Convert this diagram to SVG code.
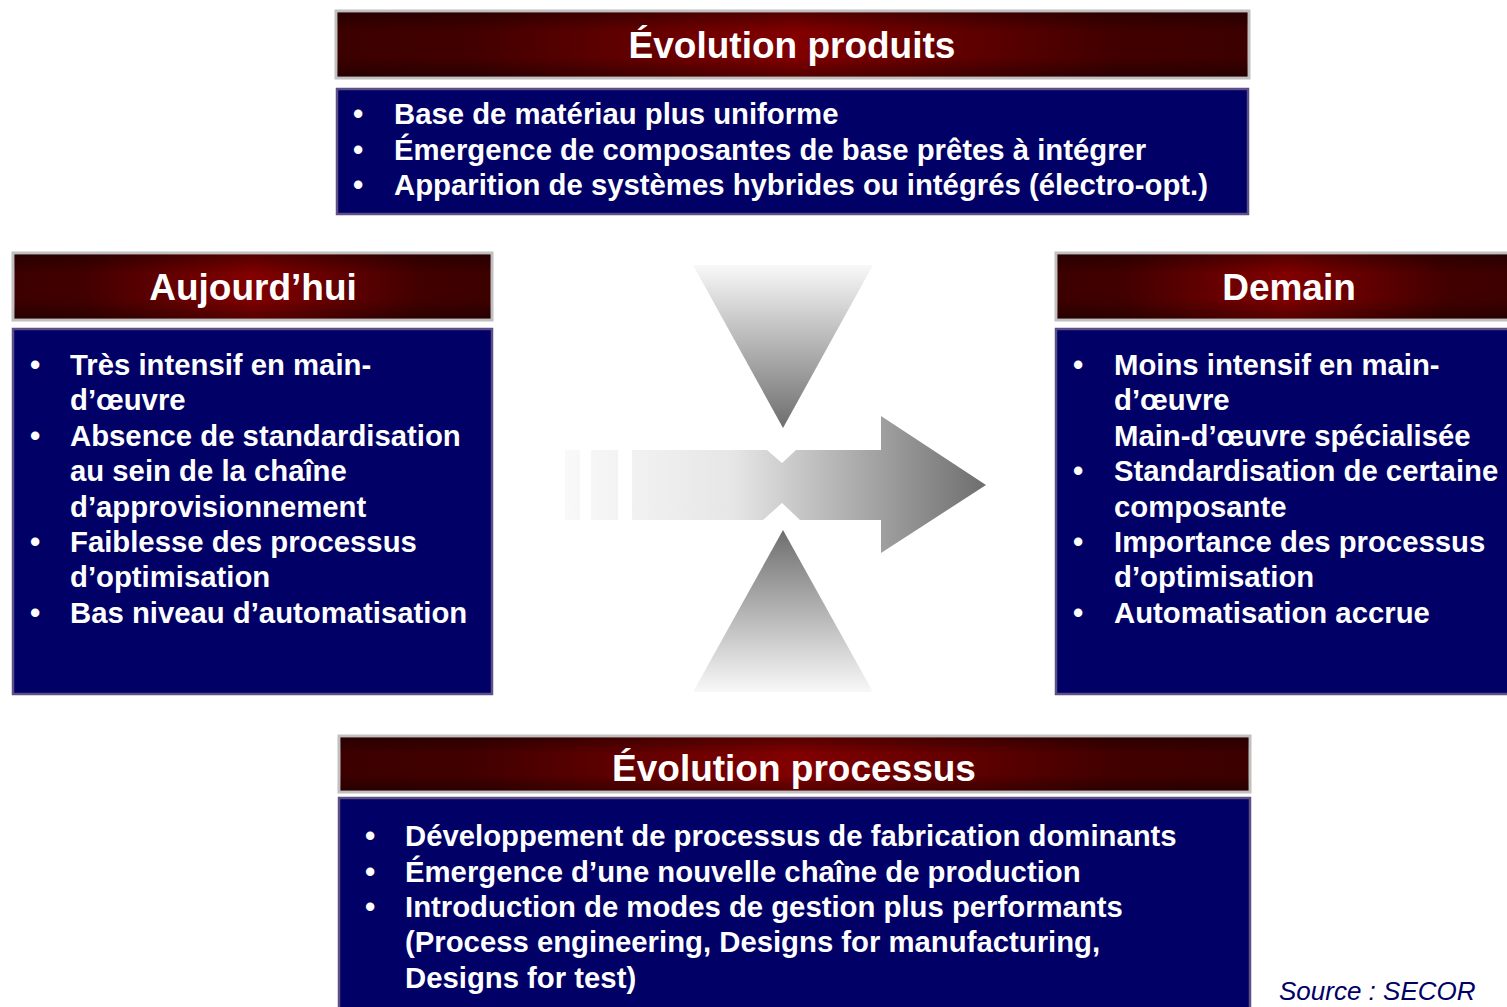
<svg xmlns="http://www.w3.org/2000/svg" width="1507" height="1007" viewBox="0 0 1507 1007">
  <defs>
    <linearGradient id="redH" x1="0" y1="0" x2="1" y2="0">
      <stop offset="0" stop-color="#3c0000"/>
      <stop offset="0.15" stop-color="#420000"/>
      <stop offset="0.5" stop-color="#820000"/>
      <stop offset="0.85" stop-color="#420000"/>
      <stop offset="1" stop-color="#3c0000"/>
    </linearGradient>
    <linearGradient id="shadeV" x1="0" y1="0" x2="0" y2="1">
      <stop offset="0" stop-color="#000" stop-opacity="0.35"/>
      <stop offset="0.3" stop-color="#000" stop-opacity="0"/>
      <stop offset="0.7" stop-color="#000" stop-opacity="0"/>
      <stop offset="1" stop-color="#000" stop-opacity="0.35"/>
    </linearGradient>
    <linearGradient id="triDown" x1="0" y1="0" x2="0" y2="1">
      <stop offset="0" stop-color="#f8f8f8"/>
      <stop offset="1" stop-color="#6e6e6e"/>
    </linearGradient>
    <linearGradient id="triUp" x1="0" y1="1" x2="0" y2="0">
      <stop offset="0" stop-color="#f8f8f8"/>
      <stop offset="1" stop-color="#6e6e6e"/>
    </linearGradient>
    <linearGradient id="arrowG" gradientUnits="userSpaceOnUse" x1="565" y1="0" x2="986" y2="0">
      <stop offset="0" stop-color="#f9f9f9"/>
      <stop offset="0.4" stop-color="#e6e6e6"/>
      <stop offset="1" stop-color="#6e6e6e"/>
    </linearGradient>
  </defs>
  <style>
    .hdr { fill: url(#redH); stroke: #c0c0c0; stroke-width: 3; }
    .shade { fill: url(#shadeV); }
    .body { fill: #000066; stroke: #5e4f86; stroke-width: 2.5; }
    .title { font-family: "Liberation Sans", Arial, sans-serif; font-weight: bold; font-size: 37px; fill: #ffffff; text-anchor: middle; }
    .item { font-family: "Liberation Sans", Arial, sans-serif; font-weight: bold; font-size: 29.3px; fill: #ffffff; }
    .src { font-family: "Liberation Sans", Arial, sans-serif; font-style: italic; font-size: 26px; fill: #000066; }
  </style>
  <rect width="1507" height="1007" fill="#ffffff"/>

  <!-- central arrow motif -->
  <g id="motif">
    <polygon points="693,265 873,265 783,428" fill="url(#triDown)"/>
    <polygon points="783,530 873,692 693,692" fill="url(#triUp)"/>
    <rect x="565" y="450" width="15" height="70" fill="url(#arrowG)"/>
    <rect x="591" y="450" width="27" height="70" fill="url(#arrowG)"/>
    <polygon points="632,450 767,450 782,463 796,450 881,450 881,416 986,485 881,553 881,520 800,520 782,503 763,520 632,520" fill="url(#arrowG)"/>
  </g>

  <!-- product evolution -->
  <g id="produits">
    <rect class="hdr" x="336" y="11" width="913" height="67"/>
    <rect class="shade" x="337.5" y="12.5" width="910" height="64"/>
    <text class="title" x="792" y="58">Évolution produits</text>
    <rect class="body" x="337" y="89" width="911" height="125"/>
    <text class="item" x="353" y="124">•</text>
    <text class="item" x="394" y="124">Base de matériau plus uniforme</text>
    <text class="item" x="353" y="160">•</text>
    <text class="item" x="394" y="160">Émergence de composantes de base prêtes à intégrer</text>
    <text class="item" x="353" y="195">•</text>
    <text class="item" x="394" y="195">Apparition de systèmes hybrides ou intégrés (électro-opt.)</text>
  </g>

  <!-- today -->
  <g id="aujourdhui">
    <rect class="hdr" x="13" y="253" width="479" height="67"/>
    <rect class="shade" x="14.5" y="254.5" width="476" height="64"/>
    <text class="title" x="253" y="300">Aujourd’hui</text>
    <rect class="body" x="13" y="329" width="479" height="365"/>
    <text class="item" x="30" y="375">•</text>
    <text class="item" x="70" y="375">Très intensif en main-</text>
    <text class="item" x="70" y="410">d’œuvre</text>
    <text class="item" x="30" y="446">•</text>
    <text class="item" x="70" y="446">Absence de standardisation</text>
    <text class="item" x="70" y="481">au sein de la chaîne</text>
    <text class="item" x="70" y="517">d’approvisionnement</text>
    <text class="item" x="30" y="552">•</text>
    <text class="item" x="70" y="552">Faiblesse des processus</text>
    <text class="item" x="70" y="587">d’optimisation</text>
    <text class="item" x="30" y="623">•</text>
    <text class="item" x="70" y="623">Bas niveau d’automatisation</text>
  </g>

  <!-- tomorrow -->
  <g id="demain">
    <rect class="hdr" x="1056" y="253" width="460" height="67"/>
    <rect class="shade" x="1057.5" y="254.5" width="457" height="64"/>
    <text class="title" x="1289" y="300">Demain</text>
    <rect class="body" x="1056" y="329" width="460" height="365"/>
    <text class="item" x="1073" y="375">•</text>
    <text class="item" x="1114" y="375">Moins intensif en main-</text>
    <text class="item" x="1114" y="410">d’œuvre</text>
    <text class="item" x="1114" y="446">Main-d’œuvre spécialisée</text>
    <text class="item" x="1073" y="481">•</text>
    <text class="item" x="1114" y="481">Standardisation de certaine</text>
    <text class="item" x="1114" y="517">composante</text>
    <text class="item" x="1073" y="552">•</text>
    <text class="item" x="1114" y="552">Importance des processus</text>
    <text class="item" x="1114" y="587">d’optimisation</text>
    <text class="item" x="1073" y="623">•</text>
    <text class="item" x="1114" y="623">Automatisation accrue</text>
  </g>

  <!-- process evolution -->
  <g id="processus">
    <rect class="hdr" x="339" y="736" width="911" height="56"/>
    <rect class="shade" x="340.5" y="737.5" width="908" height="53"/>
    <text class="title" x="794" y="781">Évolution processus</text>
    <rect class="body" x="339" y="798" width="911" height="220"/>
    <text class="item" x="365" y="846">•</text>
    <text class="item" x="405" y="846">Développement de processus de fabrication dominants</text>
    <text class="item" x="365" y="882">•</text>
    <text class="item" x="405" y="882">Émergence d’une nouvelle chaîne de production</text>
    <text class="item" x="365" y="917">•</text>
    <text class="item" x="405" y="917">Introduction de modes de gestion plus performants</text>
    <text class="item" x="405" y="952">(Process engineering, Designs for manufacturing,</text>
    <text class="item" x="405" y="988">Designs for test)</text>
  </g>

  <text class="src" x="1279" y="1000">Source : SECOR</text>
</svg>
